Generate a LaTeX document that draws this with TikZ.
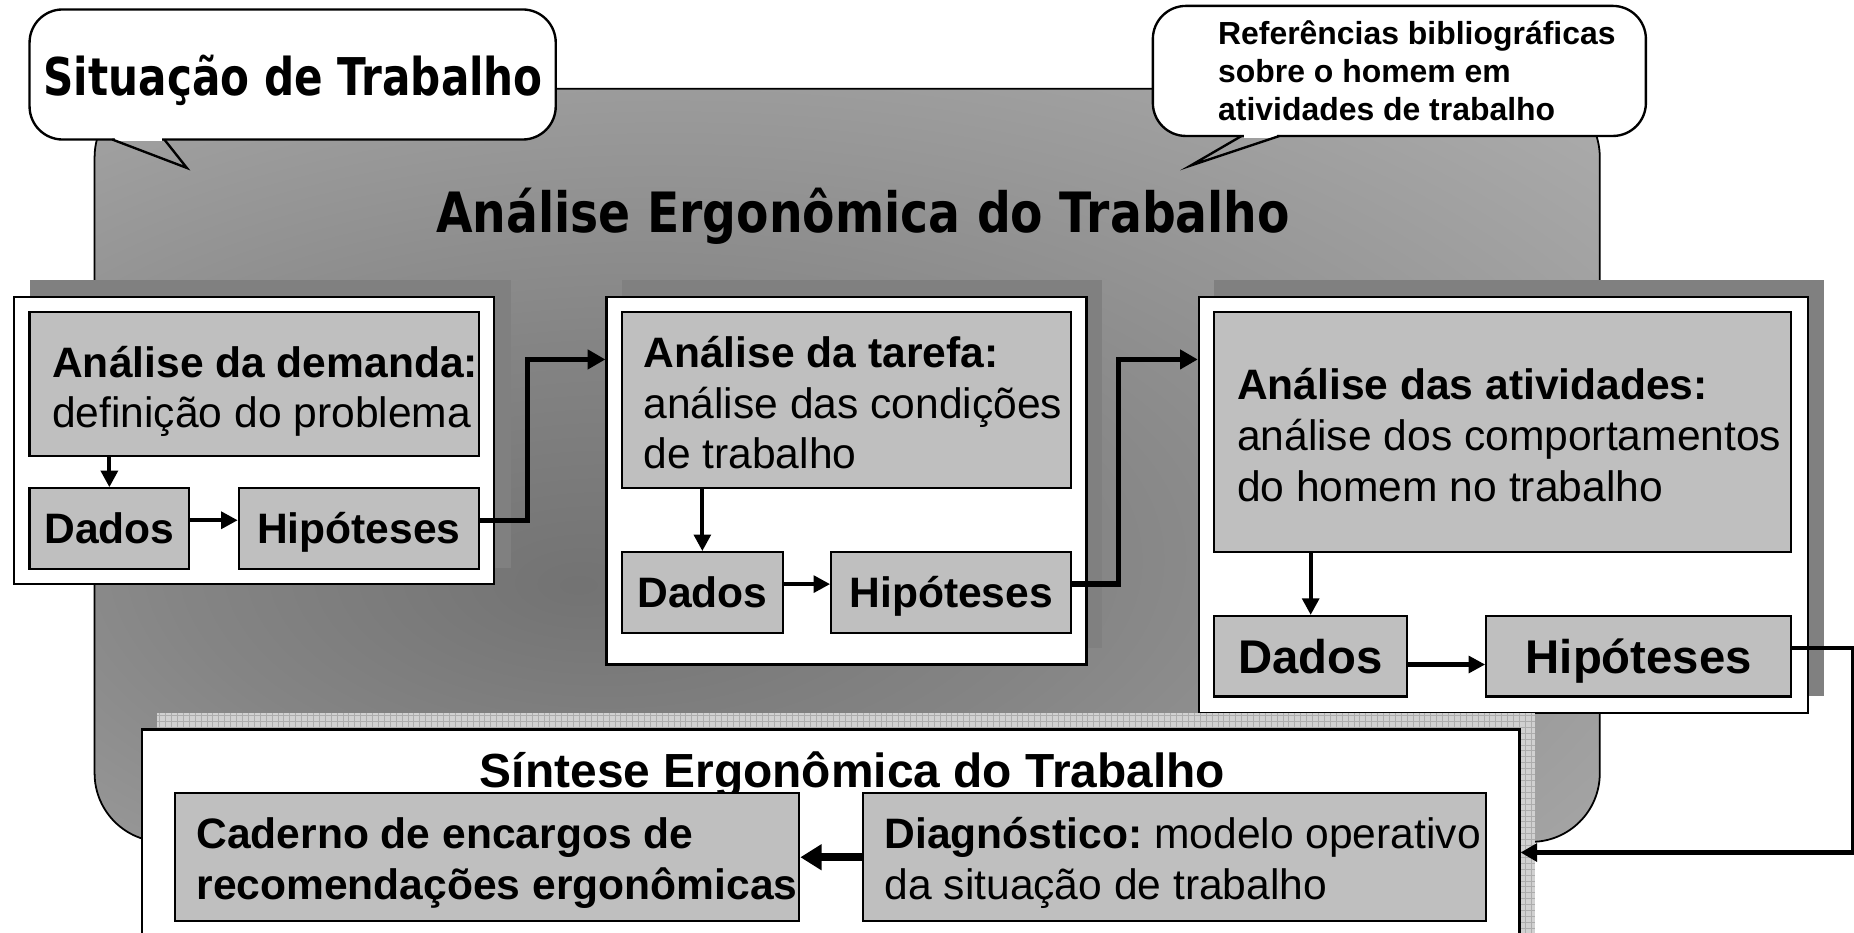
\documentclass[tikz,border=0pt]{standalone}
\usepackage{fontspec}
\setmainfont{Liberation Sans}
\newfontfamily\tahfont{DejaVu Sans}
\usetikzlibrary{arrows.meta,calc}
\pgfdeclareradialshading{aetbg}{\pgfpoint{-9bp}{-8bp}}{color(0bp)=(black!55); color(15bp)=(black!48); color(45bp)=(black!30); color(80bp)=(black!25)}
\frenchspacing
\begin{document}
\begin{tikzpicture}[x=1pt,y=-1pt,
  wbox/.style={draw=black, line width=2pt, fill=white, inner sep=0pt},
  gbox/.style={draw=black, line width=1.8pt, fill=black!25, inner sep=0pt},
  shad/.style={fill=black!50},
  bub/.style={draw=black, line width=2pt, fill=white, rounded corners=28pt, inner sep=0pt},
  tx/.style={anchor=west, align=left, inner sep=0pt, font=\fontsize{36}{43}\selectfont},
  sbox/.style={gbox, font=\bfseries\fontsize{36}{43}\selectfont, minimum height=68pt, text height=26pt, text depth=0pt},
  lbox/.style={gbox, font=\bfseries\fontsize{40}{48}\selectfont, minimum height=68pt, text height=29pt, text depth=0pt},
  arr/.style={line width=3.5pt, -{Triangle[length=14pt,width=14pt]}},
  conn/.style={line width=4.5pt, -{Triangle[length=15pt,width=16pt]}},
  conn3/.style={line width=3.5pt, -{Triangle[length=14pt,width=15pt]}},
  bigarr/.style={line width=6.5pt, -{Triangle[length=18pt,width=21pt]}}
]
\useasboundingbox (0,0) rectangle (1568,789);
\clip (0,0) rectangle (1568,789);

% background
\shadedraw[shading=aetbg, draw=black, line width=1.5pt, rounded corners=58pt] (80,75) rectangle (1353,712);

% bubble 1
\node[bub, minimum width=445pt, minimum height=110pt] (b1) at (247.5,63) {};
\coordinate (tip1) at (158,142);
\draw[white, line width=3pt] (97,118) -- (137,118);
\draw[line width=2pt, line join=miter] (95,118) -- (tip1) -- (139,118);
\node[anchor=base, inner sep=0pt, font=\tahfont\bfseries\fontsize{44}{44}\selectfont] (b1t) at (248,81) {\scalebox{0.81}[1]{Situação de Trabalho}};

% bubble 2
\node[bub, minimum width=417pt, minimum height=110pt] (b2) at (1183.5,60) {};
\coordinate (tip2) at (1007,140);
\draw[white, line width=3pt] (1052,115) -- (1080,115);
\draw[line width=2pt, line join=miter] (1050,115) -- (tip2) -- (1082,115);
\node[anchor=west, align=left, inner sep=0pt, font=\bfseries\fontsize{27}{32}\selectfont] (b2t) at (1030,60) {Referências bibliográficas\\sobre o homem em\\atividades de trabalho};

% title
\node[anchor=base, inner sep=0pt, font=\tahfont\bfseries\fontsize{47}{47}\selectfont] (title) at (730,197) {\scalebox{0.85}[1]{Análise Ergonômica do Trabalho}};

% column 1
\fill[shad] (25,237) rectangle (432,480);
\node[wbox, minimum width=406pt, minimum height=243pt] (w1) at (215,372.5) {};
\node[gbox, minimum width=380pt, minimum height=122pt] (g1) at (215,325) {};
\node[tx] (t1) at (44,331) {\textbf{Análise da demanda:}\\definição do problema};
\node[sbox, minimum width=135pt] (d1) at (92.5,447) {Dados};
\node[sbox, minimum width=203pt] (h1) at (303.5,447) {Hipóteses};
\draw[arr] (d1.north |- g1.south) -- (d1.north);
\draw[arr] ([yshift=7pt]d1.east) -- ([yshift=7pt]h1.west);

% column 2
\fill[shad] (526,237) rectangle (932,548);
\node[wbox, minimum width=406pt, minimum height=311pt] (w2) at (716,406.5) {};
\node[gbox, minimum width=380pt, minimum height=149pt] (g2) at (716,338.5) {};
\node[tx] (t2) at (544,340.5) {\textbf{Análise da tarefa:}\\análise das condições\\de trabalho};
\node[sbox, minimum width=136pt] (d2) at (594,501) {Dados};
\node[sbox, minimum width=203pt] (h2) at (804.5,501) {Hipóteses};
\draw[arr] (d2.north |- g2.south) -- (d2.north);
\draw[arr] ([yshift=7pt]d2.east) -- ([yshift=7pt]h2.west);

% column 3
\fill[shad] (1027,237) rectangle (1543,589);
\node[wbox, minimum width=515pt, minimum height=352pt] (w3) at (1271.5,427) {};
\node[gbox, minimum width=488pt, minimum height=203pt] (g3) at (1271,365.5) {};
\node[tx] (t3) at (1046,368) {\textbf{Análise das atividades:}\\análise dos comportamentos\\do homem no trabalho};
\node[lbox, minimum width=163pt] (d3) at (1108.5,555) {Dados};
\node[lbox, minimum width=258pt] (h3) at (1386,555) {Hipóteses};
\draw[arr] (d3.north |- g3.south) -- (d3.north);
\draw[arr] ([yshift=-7pt]d3.east) -- ([yshift=-7pt]h3.west);

% connectors between columns
\draw[conn] ([yshift=7pt]h1.east) -- ++(40,0) |- ([yshift=-54pt]w2.north west);
\draw[conn] ([yshift=7pt]h2.east) -- ++(39,0) |- ([yshift=-54pt]w3.north west);

% synthesis
\fill[black!18] (133,603) rectangle (1298,800);
\draw[black!32, line width=0.6pt, step=5pt] (133,603) grid (1298,800);
\node[wbox, minimum width=1165pt, minimum height=203pt] (syn) at (702.5,718.5) {};
\node[anchor=base, inner sep=0pt, font=\bfseries\fontsize{40.5}{48}\selectfont] (sint) at (721,666) {Síntese Ergonômica do Trabalho};
\node[gbox, minimum width=528pt, minimum height=108pt] (cad) at (412,725) {};
\node[tx, font=\bfseries\fontsize{36}{43}\selectfont] (cadt) at (166,730) {Caderno de encargos de\\recomendações ergonômicas};
\node[gbox, minimum width=527pt, minimum height=108pt] (diag) at (993.5,725) {};
\node[tx] (diagt) at (748,730) {\textbf{Diagnóstico:} modelo operativo\\da situação de trabalho};
\draw[bigarr] (diag.west) -- (cad.east);

\draw[conn3] ([yshift=7pt]h3.east) -- ++(51,0) |- ([yshift=-105pt]syn.north east);
\end{tikzpicture}
\end{document}
